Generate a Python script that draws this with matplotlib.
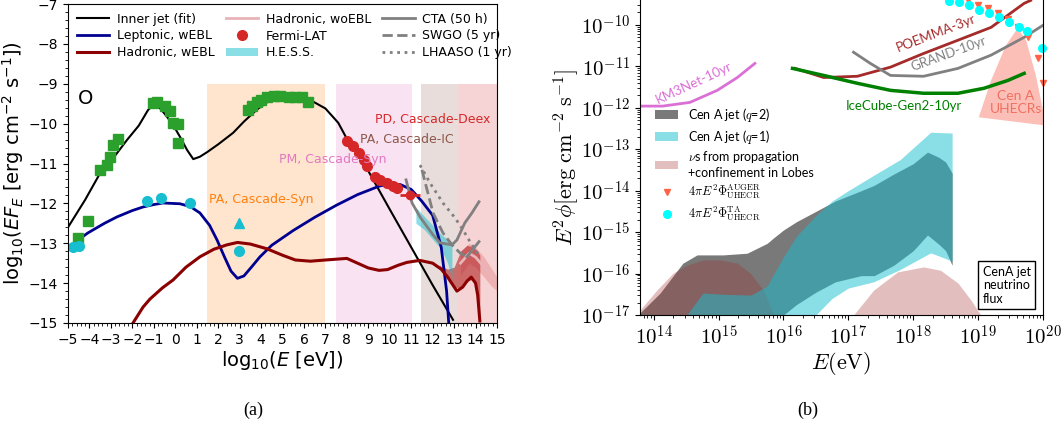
import numpy as np
import matplotlib
matplotlib.use("Agg")
import matplotlib.pyplot as plt
from matplotlib.patches import Patch
from matplotlib.lines import Line2D
from matplotlib.ticker import FuncFormatter, MultipleLocator, LogLocator, NullFormatter

plt.rcParams['font.family'] = ['DejaVu Sans']
plt.rcParams['mathtext.fontset'] = 'cm'

# ---------------- panel (a): log10(E/eV) vs log10(EF_E) ----------------
jet_x = [-5, -4.2, -3.5, -2.8, -2.25, -1.7, -1.27, -1.03, -0.7, -0.38, -0.05, 0.22, 0.55, 0.84,
         1.15, 1.5, 2.0, 2.7, 3.2, 3.8, 4.4, 5.0, 5.6, 6.2, 7.0, 7.6, 8.0, 8.6, 9.2, 10.0, 11.0,
         12.0, 12.95]
jet_y = [-12.6, -11.91, -11.24, -10.8, -10.41, -10.05, -9.66, -9.53, -9.62, -9.83, -10.08, -10.33,
         -10.66, -10.89, -10.83, -10.71, -10.52, -10.23, -9.95, -9.65, -9.42, -9.28, -9.27, -9.38,
         -9.62, -9.98, -10.38, -10.8, -11.38, -12.15, -13.1, -14.05, -14.92]

lep_x = [-5, -4.07, -3.3, -2.72, -2.0, -1.5, -1.0, -0.57, 0.22, 0.7, 1.15, 1.6, 1.95, 2.3, 2.6,
         2.9, 3.2, 3.55, 3.95, 4.5, 5.5, 6.5, 7.5, 8.5, 9.5, 10.0, 10.5, 11.0, 11.5, 12.0, 12.4,
         12.65, 12.75]
lep_y = [-13.1, -12.74, -12.5, -12.34, -12.18, -12.09, -12.03, -11.99, -12.01, -12.08, -12.24,
         -12.55, -12.92, -13.35, -13.7, -13.88, -13.82, -13.6, -13.34, -13.05, -12.68, -12.35,
         -12.05, -11.78, -11.57, -11.5, -11.53, -11.65, -11.95, -12.3, -13.1, -14.2, -15.0]

had_x = [-1.97, -1.5, -1.18, -0.6, -0.1, 0.5, 1.15, 1.8, 2.41, 2.9, 3.5, 4.28, 5.0, 5.6, 6.3, 7.0,
         8.0, 8.5, 9.0, 9.5, 9.9, 10.4, 10.8, 11.4, 12.0, 12.4, 12.7, 13.13, 13.4, 13.6, 13.8,
         14.0, 14.1, 14.2]
had_y = [-15, -14.6, -14.4, -14.12, -13.92, -13.6, -13.34, -13.15, -13.04, -12.98, -13.02, -13.14,
         -13.3, -13.42, -13.45, -13.42, -13.38, -13.5, -13.62, -13.68, -13.66, -13.55, -13.48,
         -13.43, -13.5, -13.65, -13.85, -14.2, -14.1, -13.95, -13.85, -14.0, -14.3, -14.95]

# hadronic envelopes at the highest energies
hband_x = [12.3, 12.7, 13.0, 13.3, 13.6, 13.9, 14.1, 14.2]
hband_hi = [-13.55, -13.65, -13.6, -13.2, -13.05, -13.1, -13.2, -13.3]
hband_lo = [-13.6, -13.85, -14.1, -14.12, -13.95, -13.9, -14.3, -14.9]
woebl_x = [13.3, 13.7, 14.0, 14.4, 14.7, 15.0]
woebl_hi = [-13.2, -13.0, -13.1, -13.35, -13.6, -13.85]
woebl_lo = [-13.8, -13.5, -13.6, -13.85, -14.05, -14.2]
woebl_mid = [-13.5, -13.25, -13.35, -13.6, -13.8, -14.0]

# data points
green_x = [-4.53, -4.07, -3.51, -3.18, -3.04, -2.9, -2.67, -1.03, -0.85, -0.48, -0.24, -0.1, 0.13,
           0.13, 3.4, 3.6, 3.8, 4.0, 4.3, 4.6, 4.9, 5.3, 5.6, 5.9, 6.2]
green_y = [-12.88, -12.45, -11.16, -11.04, -10.83, -10.53, -10.38, -9.48, -9.46, -9.56, -9.68, -9.98,
           -10.0, -10.48, -9.65, -9.55, -9.45, -9.4, -9.33, -9.3, -9.3, -9.32, -9.33, -9.33, -9.45]
cyan_x = [-4.77, -4.49, -1.32, -0.66, 0.69, 2.97]
cyan_y = [-13.09, -13.07, -11.94, -11.86, -11.99, -13.19]
tri_x, tri_y = [2.97], [-12.49]
fermi_x = [8.0, 8.29, 8.57, 8.8, 8.94, 9.31, 9.55, 9.87, 10.15, 10.34]
fermi_y = [-10.43, -10.56, -10.73, -10.9, -11.06, -11.34, -11.41, -11.49, -11.56, -11.61]
fermi_ul_x, fermi_ul_y, fermi_ul_xerr = [10.95], [-11.78], [0.45]

hess_x = [11.22, 11.6, 12.0, 12.4, 12.7, 12.9]
hess_hi = [-12.1, -12.32, -12.55, -12.78, -12.9, -12.98]
hess_lo = [-12.5, -12.65, -12.9, -13.15, -13.5, -13.9]

cta_x = [10.76, 11.04, 11.41, 12.02, 12.34, 12.9, 13.13, 13.5, 13.83, 14.16]
cta_y = [-11.41, -11.99, -12.34, -12.79, -12.99, -13.04, -12.92, -12.49, -12.24, -11.96]
swgo_x = [11.5, 11.74, 12.02, 12.48, 12.9, 13.27, 13.6]
swgo_y = [-11.16, -11.66, -12.24, -12.74, -13.04, -13.24, -13.34]
swgo_tail_x = [13.6, 14.16]
swgo_tail_y = [-13.34, -12.96]
lhaaso_x = [11.41, 11.88, 12.48, 13.04, 13.41, 13.74, 14.21]
lhaaso_y = [-11.04, -11.49, -11.99, -12.36, -12.66, -12.96, -13.34]

# energy bands
bands = [(1.5, 7.0, 'tab:orange'), (7.5, 11.05, 'tab:pink'),
         (11.45, 13.2, 'tab:brown'), (13.2, 15.0, 'tab:red')]
band_labels = [('PA, Cascade-Syn', 4.0, -11.9, 'tab:orange'),
               ('PM, Cascade-Syn', 7.35, -10.9, 'tab:pink'),
               ('PA, Cascade-IC', 10.8, -10.4, 'tab:brown'),
               ('PD, Cascade-Deex', 12.0, -9.9, 'tab:red')]

# ---------------- panel (b): neutrino fluxes ----------------
km3_E = [13.79, 14.14, 14.56, 14.98, 15.29, 15.56]
km3_F = [-11.96, -11.96, -11.87, -11.58, -11.27, -10.93]
ic2_E = [16.14, 16.62, 17.14, 17.65, 18.16, 18.69, 19.09, 19.46, 19.71]
ic2_F = [-11.05, -11.22, -11.41, -11.58, -11.65, -11.65, -11.53, -11.34, -11.17]
poemma_E = [16.18, 16.62, 17.14, 17.65, 18.16, 18.69, 19.2, 19.71, 19.81]
poemma_F = [-11.05, -11.27, -11.24, -11.02, -10.69, -10.37, -10.06, -9.48, -9.41]
grand_E = [17.08, 17.34, 17.65, 18.16, 18.69, 19.2, 19.71, 20.0]
grand_F = [-10.66, -10.93, -11.22, -11.24, -11.05, -10.73, -10.3, -10.01]

uhecr_E = [19.01, 19.2, 19.43, 19.61, 19.74, 19.89, 20.0, 20.0]
uhecr_F = [-12.23, -11.34, -10.49, -10.08, -10.37, -11.22, -12.06, -12.42]

auger_E = [18.84, 19.0, 19.15, 19.3, 19.46, 19.61, 19.77, 19.92, 20.0]
auger_F = [-9.41, -9.51, -9.6, -9.72, -9.87, -10.06, -10.3, -10.81, -11.41]
ta_E = [18.55, 18.7, 18.86, 19.01, 19.17, 19.32, 19.47, 19.63, 19.75, 19.98]
ta_F = [-9.42, -9.46, -9.53, -9.63, -9.72, -9.82, -9.94, -10.06, -10.16, -10.57]

q2_E = [13.79, 14.1, 14.45, 14.67, 15.07, 15.44, 15.75, 15.84, 16.0, 16.2, 16.5, 16.8, 17.2, 17.4,
        17.7, 18.0, 18.22, 18.4, 18.5, 18.6]
q2_hi = [-16.95, -16.47, -15.75, -15.55, -15.55, -15.51, -15.27, -15.15, -14.95, -14.75, -14.5,
         -14.25, -14.0, -13.87, -13.6, -13.35, -13.07, -13.2, -13.31, -13.58]
q2_lo = [-17.5, -17.5, -17.5, -17.5, -17.5, -17.5, -17.5, -17.2, -17.0, -16.75, -16.45, -16.2,
         -16.05, -16.05, -15.8, -15.45, -15.07, -15.3, -15.45, -15.8]

q1_E = [14.4, 14.51, 14.76, 15.07, 15.5, 15.75, 16.0, 16.2, 16.5, 16.75, 17.0, 17.39, 17.8, 18.27,
        18.6]
q1_hi = [-17.5, -17.0, -16.47, -16.5, -16.52, -16.3, -15.6, -15.1, -14.6, -14.25, -14.0, -13.63,
         -13.25, -12.59, -12.61]
q1_lo = [-17.5, -17.5, -17.5, -17.5, -17.5, -17.5, -17.5, -17.3, -17.0, -16.6, -16.35, -16.2,
         -15.9, -15.5, -15.7]

lobe1_E = [13.79, 14.05, 14.3, 14.51, 14.76, 15.02, 15.29, 15.49, 15.69, 15.84]
lobe1_F = [-16.88, -16.4, -15.99, -15.8, -15.67, -15.67, -15.75, -15.99, -16.4, -16.95]
lobe2_E = [17.08, 17.39, 17.76, 18.16, 18.42, 18.69, 18.89, 19.04]
lobe2_F = [-17.0, -16.4, -15.96, -15.84, -15.92, -16.23, -16.64, -17.0]


fig = plt.figure(figsize=(10.62, 4.3), dpi=100)

# ---------------- (a) ----------------
ax1 = fig.add_axes([68 / 1062, 107 / 430, 429 / 1062, 319 / 430])
for x0, x1, c in bands:
    ax1.fill_between([x0, x1], -15, -9, color=c, alpha=0.2, lw=0)
for txt, tx, ty, c in band_labels:
    ax1.text(tx, ty, txt, color=c, fontsize=9, ha='center', va='center')

ax1.fill_between(woebl_x, woebl_lo, woebl_hi, color='#e07070', alpha=0.35, lw=0)
ax1.plot(woebl_x, woebl_mid, color='#e8b4b8', lw=2)
ax1.fill_between(hband_x, hband_lo, hband_hi, color='#b22222', alpha=0.6, lw=0)
ax1.fill_between(hess_x, hess_lo, hess_hi, color='tab:cyan', alpha=0.5, lw=0)

ax1.plot(jet_x, jet_y, color='black', lw=1.5, label='Inner jet (fit)')
ax1.plot(lep_x, lep_y, color='#000090', lw=2, label='Leptonic, wEBL')
ax1.plot(had_x, had_y, color='#8b0000', lw=2.2, label='Hadronic, wEBL')
ax1.plot([], [], color='#e8b4b8', lw=2, label='Hadronic, woEBL')
ax1.plot(fermi_x, fermi_y, 'o', color='tab:red', ms=7, label='Fermi-LAT')
ax1.errorbar(fermi_ul_x, fermi_ul_y, xerr=fermi_ul_xerr, fmt='o', color='tab:red', ms=6, lw=2)
ax1.fill_between([], [], [], color='tab:cyan', alpha=0.5, lw=0, label='H.E.S.S.')
ax1.plot(cta_x, cta_y, color='gray', lw=2, label='CTA (50 h)')
ax1.plot(swgo_x, swgo_y, color='gray', lw=2, ls='--', label='SWGO (5 yr)')
ax1.plot(swgo_tail_x, swgo_tail_y, color='gray', lw=2)
ax1.plot(lhaaso_x, lhaaso_y, color='gray', lw=2, ls=':', label='LHAASO (1 yr)')

ax1.plot(green_x, green_y, 's', color='tab:green', ms=7)
ax1.plot(cyan_x, cyan_y, 'o', color='tab:cyan', ms=7)
ax1.plot(tri_x, tri_y, '^', color='tab:cyan', ms=7)

ax1.text(-4.2, -9.38, 'O', fontsize=14, ha='center', va='center')

ax1.set_xlim(-5, 15)
ax1.set_ylim(-15, -7)
ax1.xaxis.set_major_locator(MultipleLocator(1))
ax1.xaxis.set_minor_locator(MultipleLocator(0.2))
ax1.yaxis.set_major_locator(MultipleLocator(1))
ax1.yaxis.set_minor_locator(MultipleLocator(0.2))
ax1.tick_params(labelsize=10)
ax1.set_xlabel(r'log$_{10}$($E$ [eV])', fontsize=14, math_fontfamily='dejavusans', labelpad=2)
ax1.set_ylabel(r'log$_{10}$($EF_E$ [erg cm$^{-2}$ s$^{-1}$])', fontsize=14,
               math_fontfamily='dejavusans', labelpad=2)
ax1.legend(loc='upper left', ncol=3, frameon=False, fontsize=9, handlelength=2.6,
           handletextpad=0.6, columnspacing=0.9, labelspacing=0.3, borderaxespad=0.3)

# ---------------- (b) ----------------
ax2 = fig.add_axes([640 / 1062, 115 / 430, 403 / 1062, 315 / 430])
ax2.set_xscale('log')
ax2.set_yscale('log')
p = lambda a: 10 ** np.asarray(a)

ax2.fill_between(p(q2_E), p(q2_lo), p(q2_hi), color='#404040', alpha=0.7, lw=0)
ax2.fill_between(p(lobe1_E), 1e-18, p(lobe1_F), color='brown', alpha=0.3, lw=0)
ax2.fill_between(p(lobe2_E), 1e-18, p(lobe2_F), color='brown', alpha=0.3, lw=0)
ax2.fill_between(p(q1_E), p(q1_lo), p(q1_hi), color='tab:cyan', alpha=0.5, lw=0)
ax2.fill(p(uhecr_E), p(uhecr_F), color='salmon', alpha=0.5, lw=0)

ax2.plot(p(km3_E), p(km3_F), color='orchid', lw=2)
ax2.plot(p(poemma_E), p(poemma_F), color='brown', lw=2)
ax2.plot(p(grand_E), p(grand_F), color='gray', lw=2)
ax2.plot(p(ic2_E), p(ic2_F), color='green', lw=2.5)
ax2.plot(p(auger_E), p(auger_F), 'v', color='tomato', ms=5, clip_on=False)
ax2.plot(p(ta_E), p(ta_F), 'o', color='cyan', ms=5.5, clip_on=False)

sans = 'Lato'
ax2.text(p(14.62), p(-11.41), 'KM3Net-10yr', color='orchid', fontsize=9.5, rotation=25,
         ha='center', va='center', family=sans)
ax2.text(p(18.35), p(-10.2), 'POEMMA-3yr', color='brown', fontsize=9.5, rotation=21,
         ha='center', va='center', family=sans)
ax2.text(p(18.55), p(-10.7), 'GRAND-10yr', color='gray', fontsize=9.5, rotation=20,
         ha='center', va='center', family=sans)
ax2.text(p(17.85), p(-11.96), 'IceCube-Gen2-10yr', color='green', fontsize=9.5,
         ha='center', va='center', family=sans)
ax2.text(p(19.58), p(-11.87), 'Cen A\nUHECRs', color='#f07060', fontsize=10, ha='center',
         va='center', linespacing=1.1, family=sans)
ax2.text(p(19.07), p(-16.75), 'CenA jet\nneutrino\nflux', fontsize=9, ha='left', va='bottom',
         linespacing=1.15, family=sans,
         bbox=dict(boxstyle='square,pad=0.35', fc='white', ec='black', lw=1))

ax2.set_xlim(p(13.79), 1e20)
ax2.set_ylim(1e-17, p(-9.4))
ax2.spines['top'].set_visible(False)
ax2.xaxis.set_major_locator(LogLocator(base=10, numticks=20))
ax2.yaxis.set_major_locator(LogLocator(base=10, numticks=20))
ax2.xaxis.set_minor_locator(LogLocator(base=10, subs=np.arange(2, 10), numticks=20))
ax2.yaxis.set_minor_locator(LogLocator(base=10, subs=np.arange(2, 10), numticks=20))
ax2.xaxis.set_minor_formatter(NullFormatter())
ax2.yaxis.set_minor_formatter(NullFormatter())
fmt = FuncFormatter(lambda v, pos: r'$10^{%d}$' % round(np.log10(v)))
ax2.xaxis.set_major_formatter(fmt)
ax2.yaxis.set_major_formatter(fmt)
ax2.tick_params(labelsize=15)
ax2.set_xlabel(r'$E(\mathrm{eV})$', fontsize=16, labelpad=1)
ax2.set_ylabel(r'$E^2\phi[\mathrm{erg\ cm^{-2}\ s^{-1}}]$', fontsize=16, labelpad=0)

handles = [Patch(facecolor='#404040', alpha=0.7), Patch(facecolor='tab:cyan', alpha=0.5),
           Patch(facecolor='brown', alpha=0.3),
           Line2D([], [], marker='v', color='tomato', ls='', ms=5),
           Line2D([], [], marker='o', color='cyan', ls='', ms=5.5)]
labels = ['Cen A jet ($q$=2)', 'Cen A jet ($q$=1)',
          '$\\nu$s from propagation\n+confinement in Lobes',
          r'$4\pi E^2\Phi_{\rm UHECR}^{\rm AUGER}$', r'$4\pi E^2\Phi_{\rm UHECR}^{\rm TA}$']
leg = ax2.legend(handles, labels, loc='upper left', bbox_to_anchor=(0.01, 0.7), frameon=False,
                 prop={'family': sans, 'size': 9}, handlelength=1.8, labelspacing=0.3)

fig.text(253 / 1062, 1 - 410 / 430, '(a)', fontsize=13, family='Liberation Serif',
         ha='center', va='center')
fig.text(808 / 1062, 1 - 410 / 430, '(b)', fontsize=13, family='Liberation Serif',
         ha='center', va='center')

fig.savefig('out.png', dpi=100)
